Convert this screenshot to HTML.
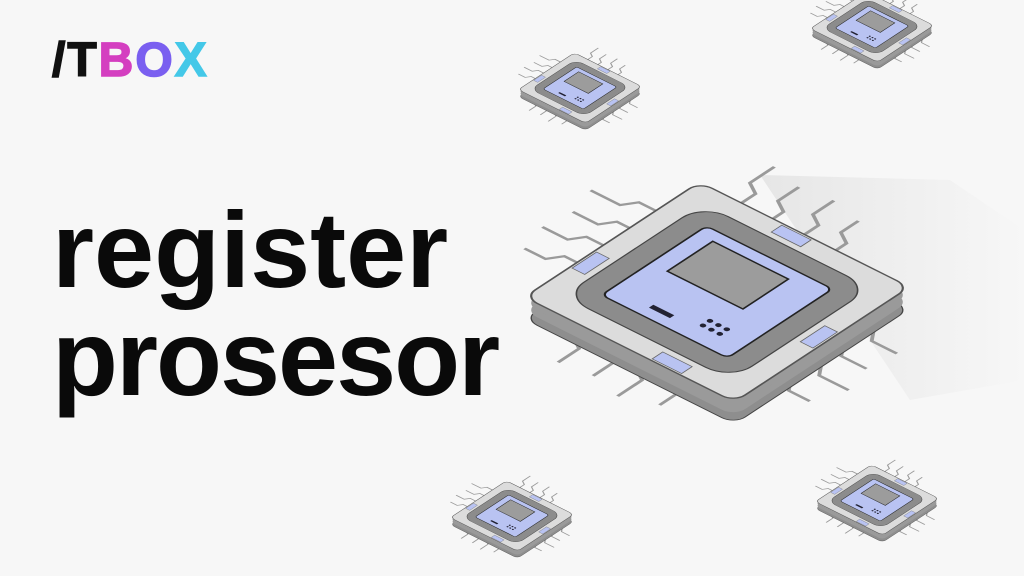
<!DOCTYPE html>
<html><head><style>
body{margin:0;width:1024px;height:576px;overflow:hidden;background:#f7f7f7;font-family:"Liberation Sans",sans-serif;position:relative}
.t{position:absolute;left:52px;font-weight:bold;font-size:108px;color:#0a0a0a;line-height:1}
.logo{position:absolute;left:52px;top:37px;font-weight:bold;font-size:48px;letter-spacing:2px;line-height:1;-webkit-text-stroke:1.5px currentColor}
</style></head><body>
<svg width="1024" height="576" style="position:absolute;left:0;top:0">
<defs>
<linearGradient id="sh" x1="0" y1="0" x2="1" y2="0"><stop offset="0" stop-color="#e6e6e6"/><stop offset="1" stop-color="#f7f7f7"/></linearGradient>
<g id="u">
 <g fill="none" stroke="#9a9a9a" stroke-width="1.4">
  <path d="M20,5 L20,-8 L14,-12 L14,-26"/><path d="M35,5 L35,-6 L29,-10 L29,-22"/><path d="M50,5 L50,-8 L44,-12 L44,-24"/><path d="M65,5 L65,-6 L59,-10 L59,-20"/>
  <path d="M5,25 L-8,25 L-12,31 L-26,31"/><path d="M5,40 L-6,40 L-10,46 L-22,46"/><path d="M5,55 L-8,55 L-12,61 L-24,61"/><path d="M5,70 L-6,70 L-10,76 L-20,76"/>
  <path d="M95,30 L108,30 L112,36 L124,36"/><path d="M95,45 L106,45 L110,51 L122,51"/><path d="M95,60 L108,60 L112,66 L126,66"/><path d="M95,75 L106,75 L110,81 L120,81"/>
  <path d="M30,95 L30,108 L36,112 L36,124"/><path d="M45,95 L45,106 L51,110 L51,122"/><path d="M60,95 L60,108 L66,112 L66,126"/><path d="M75,95 L75,106 L81,110 L81,120"/>
 </g>
</g>
<g id="f">
 <rect x="0" y="0" width="100" height="100" rx="6" fill="#dcdcdc" stroke="#555" stroke-width="0.8"/>
 <rect x="10" y="10" width="80" height="80" rx="12" fill="#8c8c8c" stroke="#444" stroke-width="0.6"/>
 <rect x="20" y="20" width="60" height="60" rx="3" fill="#b9c3f2" stroke="#222" stroke-width="0.8"/>
 <rect x="28" y="26" width="36" height="26" fill="#9c9c9c" stroke="#222" stroke-width="0.8"/>
 <g fill="#223"><circle cx="60" cy="66" r="1.2"/><circle cx="64" cy="66" r="1.2"/><circle cx="68" cy="66" r="1.2"/><circle cx="60" cy="70" r="1.2"/><circle cx="64" cy="70" r="1.2"/><circle cx="68" cy="70" r="1.2"/></g>
 <rect x="38" y="72" width="10" height="2.5" fill="#223"/>
 <g fill="#b9c3f2" stroke="#666" stroke-width="0.4"><rect x="40" y="1" width="14" height="6"/><rect x="93" y="40" width="6" height="14"/><rect x="1" y="60" width="6" height="14"/><rect x="60" y="93" width="14" height="6"/></g>
</g>
<g id="chip">
 <g transform="matrix(2.1,1.05,-1.75,1.15,-17.5,-110)"><use href="#u"/></g>
 <g transform="translate(0,22) matrix(2.1,1.05,-1.75,1.15,-17.5,-110)"><rect width="100" height="100" rx="6" fill="#8e8e8e" stroke="#444" stroke-width="0.5"/></g>
 <g transform="translate(0,14) matrix(2.1,1.05,-1.75,1.15,-17.5,-110)"><rect width="100" height="100" rx="6" fill="#9a9a9a"/></g>
 <g transform="translate(0,7) matrix(2.1,1.05,-1.75,1.15,-17.5,-110)"><rect width="100" height="100" rx="6" fill="#9a9a9a"/></g>
 <g transform="matrix(2.1,1.05,-1.75,1.15,-17.5,-110)"><use href="#f"/></g>
</g>
</defs>
<polygon points="760,175 950,180 1024,230 1024,380 910,400" fill="url(#sh)"/>
<use href="#chip" transform="translate(717,292)"/>
<use href="#chip" transform="translate(872,27) scale(0.32)"/>
<use href="#chip" transform="translate(580,88) scale(0.32)"/>
<use href="#chip" transform="translate(512,516) scale(0.32)"/>
<use href="#chip" transform="translate(877,500) scale(0.32)"/>
</svg>
<div class="logo"><span style="color:#111">/T</span><span style="color:#d43fc0">B</span><span style="color:#7a5ff0">O</span><span style="color:#44c8e8">X</span></div>
<div class="t" style="top:196px">register</div>
<div class="t" style="top:304px;letter-spacing:-2px">prosesor</div>
</body></html>
